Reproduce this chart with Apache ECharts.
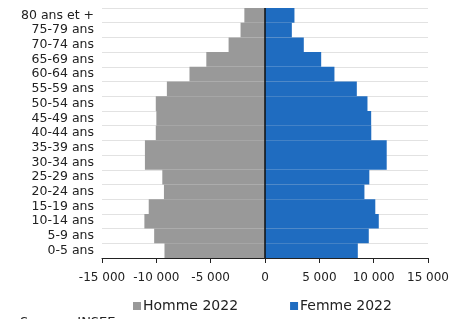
<!DOCTYPE html>
<html>
<head>
<meta charset="utf-8">
<script src="https://cdn.jsdelivr.net/npm/echarts@6/dist/echarts.min.js"></script>
<style>
  html, body { margin: 0; padding: 0; background: #fff; }
  #chart { width: 456px; height: 319px; }
</style>
</head>
<body>
<div id="chart"></div>
<script>
// tranches d'âge, du bas vers le haut
var ages = ['0-5 ans', '5-9 ans', '10-14 ans', '15-19 ans', '20-24 ans', '25-29 ans', '30-34 ans', '35-39 ans', '40-44 ans',
            '45-49 ans', '50-54 ans', '55-59 ans', '60-64 ans', '65-69 ans', '70-74 ans', '75-79 ans', '80 ans et +'];
var homme2022 = [9250, 10200, 11100, 10700, 9300, 9450, 11050, 11050, 10050, 10000, 10050, 9030, 6950, 5400, 3350, 2250, 1900];
var femme2022 = [8540, 9550, 10470, 10150, 9150, 9600, 11200, 11200, 9780, 9770, 9430, 8450, 6390, 5170, 3570, 2470, 2710];
var xTicks = [-15000, -10000, -5000, 0, 5000, 10000, 15000];

var font = 'DejaVu Sans';

function fmt(v) {
  var s = String(Math.abs(v)).replace(/\B(?=(\d{3})+(?!\d))/g, ' ');
  return (v < 0 ? '-' : '') + s;
}

var chart = echarts.init(document.getElementById('chart'));
chart.setOption({
  animation: false,
  textStyle: { fontFamily: font },
  grid: { left: 102, right: 28, top: 8, bottom: 61 },
  legend: {
    left: 128, top: 294,
    itemWidth: 8, itemHeight: 8, itemGap: 52,
    icon: 'rect',
    textStyle: { fontFamily: font, fontSize: 14, color: '#222', padding: [0, 0, 0, -3] },
    data: ['Homme 2022', 'Femme 2022']
  },
  graphic: [{
    type: 'text', left: 20, top: 316,
    style: { text: 'Source : INSEE', fontFamily: font, fontSize: 13, fill: '#222' }
  }],
  xAxis: {
    type: 'value',
    min: xTicks[0], max: xTicks[xTicks.length - 1], interval: 5000,
    axisLine: { show: true, lineStyle: { color: '#222', width: 1 } },
    axisTick: { show: true, length: 5, lineStyle: { color: '#222' } },
    splitLine: { show: false },
    axisLabel: { color: '#222', fontSize: 12, margin: 14, formatter: fmt }
  },
  yAxis: {
    type: 'category',
    data: ages,
    axisLine: { show: false },
    axisTick: { show: false },
    splitLine: { show: true, lineStyle: { color: '#e2e2e2', width: 1 } },
    axisLabel: { color: '#222', fontSize: 12.5, margin: 8, interval: 0, lineHeight: 12 }
  },
  series: [
    {
      name: 'Homme 2022', type: 'bar',
      barWidth: '100%', barGap: '-100%',
      itemStyle: { color: '#999999' },
      data: homme2022.map(function (v) { return -v; })
    },
    {
      name: 'Femme 2022', type: 'bar',
      barWidth: '100%', barGap: '-100%',
      itemStyle: { color: '#1f6cc0' },
      data: femme2022,
      markLine: {
        silent: true, symbol: 'none', label: { show: false },
        lineStyle: { color: '#111', type: 'solid', width: 1.5 },
        data: [{ xAxis: 0 }]
      }
    }
  ]
});
</script>
</body>
</html>
